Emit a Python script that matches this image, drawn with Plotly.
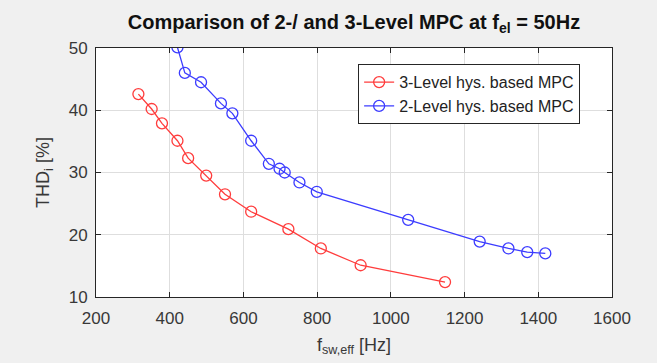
import plotly.graph_objects as go

# 3-Level hysteresis based MPC
f3 = [315, 351, 379, 421, 450, 499, 550, 621, 722, 810, 918, 1147]
thd3 = [42.6, 40.2, 37.9, 35.1, 32.3, 29.5, 26.5, 23.7, 20.9, 17.8, 15.1, 12.4]

# 2-Level hysteresis based MPC
f2 = [421, 441, 485, 539, 570, 621, 669, 698, 712, 752, 799, 1047, 1241, 1319, 1370, 1419]
thd2 = [50.1, 46.0, 44.5, 41.1, 39.5, 35.1, 31.4, 30.6, 30.0, 28.4, 26.9, 22.4, 18.9, 17.8, 17.2, 17.0]

x_ticks = [200, 400, 600, 800, 1000, 1200, 1400, 1600]
y_ticks = [10, 20, 30, 40, 50]

FONT = "Liberation Sans, Arial, sans-serif"
AX = "#262626"
TXT = "#383838"

fig = go.Figure()
fig.add_trace(go.Scatter(
    x=f3, y=thd3, mode="lines+markers", name="3-Level hys. based MPC",
    line=dict(color="rgb(255,60,60)", width=1.3),
    marker=dict(symbol="circle-open", size=11, color="rgb(255,60,60)", line=dict(width=1.3)),
))
fig.add_trace(go.Scatter(
    x=f2, y=thd2, mode="lines+markers", name="2-Level hys. based MPC",
    line=dict(color="rgb(60,60,255)", width=1.3),
    marker=dict(symbol="circle-open", size=11, color="rgb(60,60,255)", line=dict(width=1.3)),
))

axis_common = dict(
    showline=True, linecolor=AX, linewidth=1, mirror="ticks",
    ticks="inside", ticklen=5, tickcolor=AX, tickwidth=1,
    showgrid=True, gridcolor="#dedede", gridwidth=1,
    zeroline=False,
    tickfont=dict(family=FONT, size=17, color=TXT),
)

fig.update_xaxes(
    range=[200, 1600], tickvals=x_ticks, ticktext=[str(v) for v in x_ticks],
    title=dict(text="f<sub>sw,eff</sub> [Hz]", font=dict(family=FONT, size=18, color=TXT), standoff=10),
    ticklabelstandoff=6,
    **axis_common,
)
fig.update_yaxes(
    range=[10, 50], tickvals=y_ticks, ticktext=[str(v) for v in y_ticks],
    title=dict(text="THD<sub>i</sub> [%]", font=dict(family=FONT, size=18, color=TXT), standoff=14),
    ticklabelstandoff=4,
    **axis_common,
)

fig.update_layout(
    width=657, height=363,
    margin=dict(l=96, r=45, t=48, b=66),
    paper_bgcolor="#f0f0f0", plot_bgcolor="white",
    font=dict(family=FONT, color=TXT),
    title=dict(
        text="<b>Comparison of 2-/ and 3-Level MPC at f<sub>el</sub> = 50Hz</b>",
        font=dict(family=FONT, size=20, color="#111111"),
        x=0.5, xref="paper", xanchor="center",
        y=1 - 22 / 363, yref="container", yanchor="middle",
    ),
    legend=dict(
        x=0.508, y=0.935, xanchor="left", yanchor="top",
        bgcolor="white", bordercolor=AX, borderwidth=1,
        font=dict(family=FONT, size=16, color="#222222"),
        tracegroupgap=0,
    ),
    showlegend=True,
)

fig.write_html(
    "out.html",
    config={"displayModeBar": False},
    post_script="document.body.style.margin='0';document.body.style.overflow='hidden';",
)
